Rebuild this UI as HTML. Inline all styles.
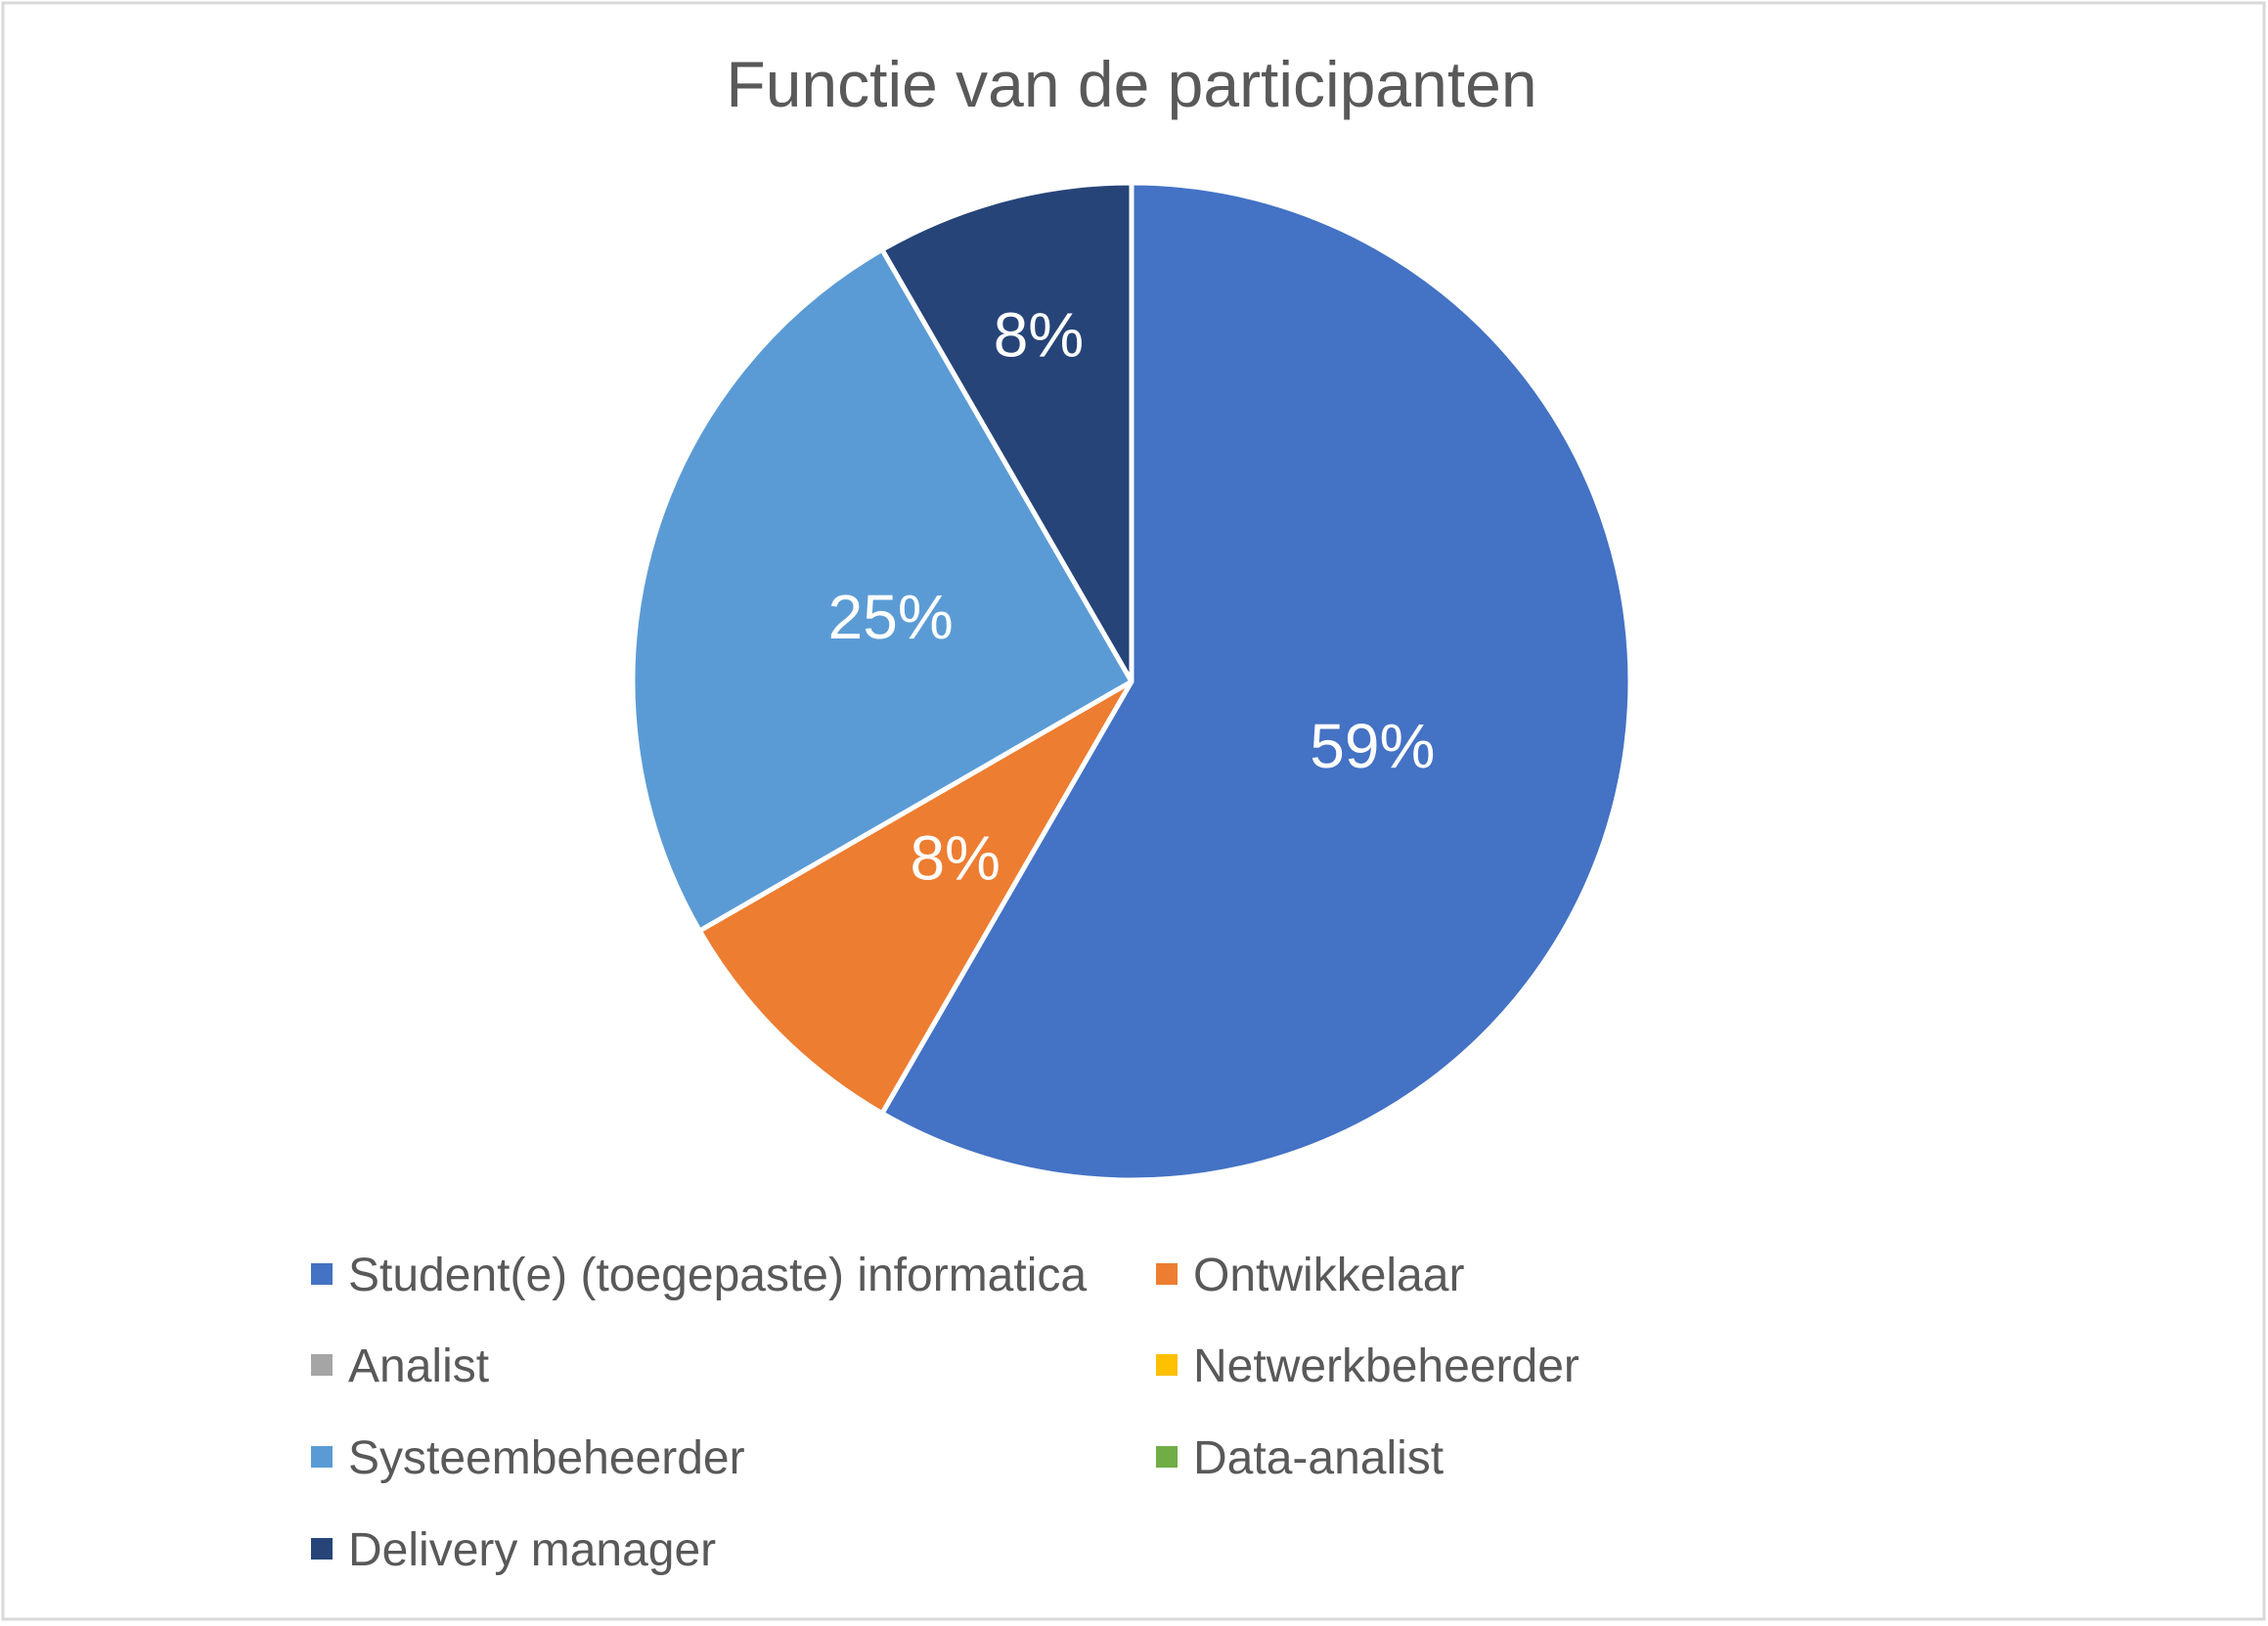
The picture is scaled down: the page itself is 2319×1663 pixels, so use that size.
<!DOCTYPE html>
<html><head><meta charset="utf-8">
<style>
html,body{margin:0;padding:0;background:#fff;}
svg{display:block;font-family:"Liberation Sans",sans-serif;}
</style></head>
<body>
<svg id="chart" width="2319" height="1663" viewBox="0 0 2319 1663">
<rect x="3" y="3" width="2312" height="1653" fill="#fff" stroke="#d9d9d9" stroke-width="3"/>
<text x="1157" y="109" text-anchor="middle" font-size="66" fill="#595959">Functie van de participanten</text>
<g id="slices"></g>
<g id="labels"></g>
<g id="legend"></g>
</svg>
<script>
const categories = ["Student(e) (toegepaste) informatica","Ontwikkelaar","Analist","Netwerkbeheerder","Systeembeheerder","Data-analist","Delivery manager"];
const counts = [7,1,0,0,3,0,1];
const printedLabels = ["59%","8%","","","25%","","8%"];
const colors = ["#4472C4","#ED7D31","#A5A5A5","#FFC000","#5B9BD5","#70AD47","#264478"];

const NS="http://www.w3.org/2000/svg";
const cx=1157, cy=697, R=510;
const total=counts.reduce((a,b)=>a+b,0);
const slicesG=document.getElementById('slices');
const labelsG=document.getElementById('labels');
const legendG=document.getElementById('legend');
function pt(angDeg,r){const a=(angDeg-90)*Math.PI/180;return [cx+r*Math.cos(a),cy+r*Math.sin(a)];}
let start=0;
counts.forEach((v,i)=>{
  const sweep=v/total*360;
  if(v>0){
    const end=start+sweep;
    const p0=pt(start,R),p1=pt(end,R);
    const large=sweep>180?1:0;
    const path=document.createElementNS(NS,'path');
    path.setAttribute('d',`M${cx},${cy} L${p0[0]},${p0[1]} A${R},${R} 0 ${large} 1 ${p1[0]},${p1[1]} Z`);
    path.setAttribute('fill',colors[i]);
    path.setAttribute('stroke','#fff');
    path.setAttribute('stroke-width','5');
    path.setAttribute('stroke-linejoin','round');
    
    
    slicesG.appendChild(path);
    const mid=start+sweep/2;
    const fr=(mid>320)?0.72:0.5;
    const lp=pt(mid,R*fr);
    const t=document.createElementNS(NS,'text');
    t.setAttribute('x',lp[0]);t.setAttribute('y',lp[1]+22);
    t.setAttribute('text-anchor','middle');t.setAttribute('font-size','64');t.setAttribute('fill','#fff');
    t.textContent=printedLabels[i];
    
    
    labelsG.appendChild(t);
  }
  start+=sweep;
});
const colX=[327,1191], rowY=[1303,1396,1490,1584];
categories.forEach((c,i)=>{
  const col=i%2,row=Math.floor(i/2);
  const g=document.createElementNS(NS,'g');
  
  
  const r=document.createElementNS(NS,'rect');
  r.setAttribute('x',colX[col]-9);r.setAttribute('y',rowY[row]-11);r.setAttribute('width',22);r.setAttribute('height',22);
  r.setAttribute('fill',colors[i]);
  
  
  const t=document.createElementNS(NS,'text');
  t.setAttribute('x',colX[col]+29);t.setAttribute('y',rowY[row]+17);
  t.setAttribute('font-size','48');t.setAttribute('fill','#595959');
  t.textContent=c;
  
  
  g.appendChild(r);g.appendChild(t);legendG.appendChild(g);
});
</script>
</body></html>
